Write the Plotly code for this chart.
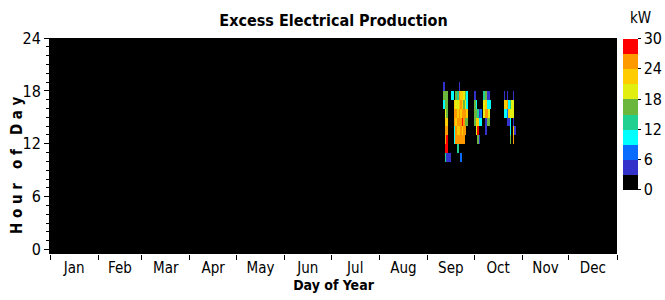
import numpy as np
import plotly.graph_objects as go

# ---- data ----
months = ["Jan", "Feb", "Mar", "Apr", "May", "Jun",
          "Jul", "Aug", "Sep", "Oct", "Nov", "Dec"]
month_days = [31, 28, 31, 30, 31, 30, 31, 31, 30, 31, 30, 31]
hour_ticks = [0, 6, 12, 18, 24]
kw_ticks = [0, 6, 12, 18, 24, 30]

# hours of each column below, listed top (18 h) to bottom (10 h)
col_hours = [18, 17, 16, 15, 14, 13, 12, 11, 10]

# day of year (0 = 1 Jan) of each non-zero column
active_days = [253, 254, 255, 256, 257, 258, 259, 260, 261, 262, 263, 264,
               265, 266, 267, 268,
               273, 274, 275, 276, 277, 279, 280, 281, 282, 283,
               292, 293, 294, 295, 296, 297, 298, 299]

# excess electrical production, kW
excess_kw = [
    [4.5, 16.5, 10.5, 0, 0, 0, 0, 0, 0],
    [0, 16.5, 16.5, 19.5, 22.5, 25.5, 25.5, 28.5, 13.5],
    [0, 16.5, 16.5, 16.5, 22.5, 25.5, 28.5, 28.5, 4.5],
    [0, 0, 0, 0, 0, 0, 0, 0, 4.5],
    [0, 0, 0, 0, 0, 0, 0, 0, 4.5],
    [0, 10.5, 0, 0, 0, 0, 0, 0, 0],
    [0, 10.5, 0, 0, 0, 0, 0, 0, 0],
    [0, 0, 22.5, 25.5, 25.5, 10.5, 10.5, 0, 0],
    [0, 16.5, 19.5, 25.5, 22.5, 25.5, 25.5, 0, 0],
    [0, 13.5, 19.5, 22.5, 25.5, 22.5, 25.5, 13.5, 0],
    [4.5, 25.5, 22.5, 25.5, 25.5, 22.5, 25.5, 0, 0],
    [0, 22.5, 25.5, 22.5, 25.5, 25.5, 25.5, 0, 7.5],
    [0, 22.5, 22.5, 25.5, 28.5, 22.5, 25.5, 0, 0],
    [0, 19.5, 16.5, 25.5, 25.5, 25.5, 25.5, 0, 0],
    [0, 16.5, 19.5, 25.5, 16.5, 25.5, 0, 0, 0],
    [0, 10.5, 10.5, 22.5, 16.5, 0, 0, 0, 0],
    [0, 4.5, 16.5, 16.5, 16.5, 0, 0, 0, 0],
    [0, 0, 10.5, 16.5, 22.5, 19.5, 0, 0, 0],
    [0, 0, 0, 13.5, 22.5, 28.5, 16.5, 0, 0],
    [0, 0, 0, 4.5, 10.5, 0, 4.5, 0, 0],
    [0, 0, 0, 7.5, 10.5, 0, 0, 0, 0],
    [0, 13.5, 19.5, 19.5, 0, 0, 0, 0, 0],
    [0, 16.5, 22.5, 25.5, 4.5, 4.5, 0, 0, 0],
    [0, 4.5, 10.5, 25.5, 16.5, 0, 0, 0, 0],
    [0, 4.5, 10.5, 19.5, 16.5, 0, 0, 0, 0],
    [0, 0, 10.5, 0, 0, 0, 0, 0, 0],
    [0, 4.5, 22.5, 10.5, 0, 0, 0, 0, 0],
    [0, 0, 22.5, 10.5, 0, 0, 0, 0, 0],
    [0, 4.5, 25.5, 7.5, 4.5, 0, 0, 0, 0],
    [0, 0, 10.5, 22.5, 4.5, 0, 0, 0, 0],
    [0, 0, 13.5, 19.5, 10.5, 10.5, 16.5, 0, 0],
    [0, 0, 19.5, 19.5, 0, 0, 0, 0, 0],
    [0, 4.5, 19.5, 19.5, 4.5, 22.5, 25.5, 0, 0],
    [0, 0, 0, 0, 0, 4.5, 0, 0, 0],
]

bin_colors = ["#000000", "#3333CC", "#0A6CFF", "#00FFFF", "#20D090",
              "#6BB63C", "#E2EE10", "#FFCC00", "#FF9900", "#FF0000"]

# ---- build grid ----
n_days = sum(month_days)
z = np.zeros((24, n_days))
for d, col in zip(active_days, excess_kw):
    for h, v in zip(col_hours, col):
        z[h, d] = v

colorscale = []
nb = len(bin_colors)
for i, c in enumerate(bin_colors):
    colorscale.append([i / nb, c])
    colorscale.append([(i + 1) / nb, c])

bounds = np.concatenate([[0], np.cumsum(month_days)]) - 0.5
centers = (bounds[:-1] + bounds[1:]) / 2
hour_mid = np.arange(24) + 0.5   # each row covers one hour, h .. h+1

FONT = "Liberation Sans Narrow, DejaVu Sans Condensed, Arial Narrow, sans-serif"

fig = go.Figure(go.Heatmap(
    z=z, x=np.arange(n_days), y=hour_mid,
    zmin=0, zmax=30, colorscale=colorscale,
    colorbar=dict(
        thickness=15, len=0.70, lenmode="fraction",
        x=1.0106, xanchor="left", xpad=0,
        y=0.997, yanchor="top", ypad=0,
        outlinewidth=0,
        tickvals=kw_ticks, ticks="outside", ticklen=3, tickcolor="black",
        tickfont=dict(family=FONT, size=16, color="black"),
    ),
    hoverinfo="skip",
))

fig.add_annotation(text="kW", xref="paper", yref="paper",
                   x=1.0406, y=1.0926, xanchor="center", yanchor="middle",
                   showarrow=False,
                   font=dict(family=FONT, size=15, color="black"))

fig.add_annotation(text="H o u r\u00a0\u00a0 o f\u00a0\u00a0 D a y",
                   xref="paper", yref="paper", textangle=-90,
                   x=-0.0582, y=0.412, xanchor="center", yanchor="middle",
                   showarrow=False,
                   font=dict(family=FONT, size=15, color="black",
                             weight="bold"))

fig.update_layout(
    width=665, height=300,
    margin=dict(l=50, r=48, t=38, b=46, autoexpand=False),
    paper_bgcolor="white", plot_bgcolor="black",
    font=dict(family=FONT, color="black"),
    title=dict(text="Excess Electrical Production", x=0.5, xref="paper",
               xanchor="center", y=0.933, yref="container", yanchor="middle",
               font=dict(family=FONT, size=16, color="black", weight="bold")),
    xaxis=dict(
        range=[-0.5, n_days - 0.5], tickvals=centers, ticktext=months,
        ticks="", ticklabelstandoff=3,
        tickfont=dict(size=15), showgrid=False, zeroline=False,
        minor=dict(tickmode="array", tickvals=list(bounds), ticks="outside",
                   ticklen=5, tickcolor="black", showgrid=False),
        title=dict(text="Day of Year", standoff=2,
                   font=dict(size=14, weight="bold")),
    ),
    yaxis=dict(
        range=[-0.5, 24], tickvals=hour_ticks, ticks="outside", ticklen=5,
        tickcolor="black", tickfont=dict(size=16), showgrid=False,
        zeroline=False, showline=True, linecolor="black",
        minor=dict(dtick=1, ticks="outside", ticklen=3, tickcolor="black",
                   showgrid=False),
    ),
)

fig.write_html(
    "out.html",
    config={"displayModeBar": False},
    post_script="document.body.style.margin='0';"
                "document.body.style.overflow='hidden';",
)
